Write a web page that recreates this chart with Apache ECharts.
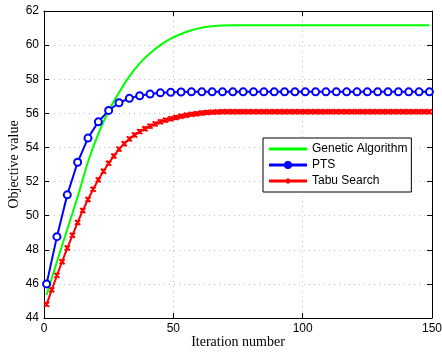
<!DOCTYPE html>
<html>
<head>
<meta charset="utf-8">
<script src="https://cdn.jsdelivr.net/npm/echarts@6/dist/echarts.min.js"></script>
<style>
html,body{margin:0;padding:0;background:#fff;}
#chart{width:442px;height:352px;}
</style>
</head>
<body>
<div id="chart"></div>
<script>
// ---- data ----
const seriesNames = ['Genetic Algorithm', 'PTS', 'Tabu Search'];

const gaIter  = [1, 5, 9, 13, 17, 21, 25, 29, 33, 37, 41, 45, 49, 53, 57, 61, 65, 69, 73, 149];
const gaValue = [45.35, 47.3, 49.2, 51.1, 53.15, 54.8, 56.15, 57.22, 58.17, 58.93, 59.52, 60.0, 60.38, 60.65, 60.87, 61.02, 61.1, 61.15, 61.16, 61.16];

const ptsIter = [1, 5, 9, 13, 17, 21, 25, 29, 33, 37, 41, 45, 49, 53, 57, 61, 65, 69, 73, 77, 81, 85, 89, 93, 97, 101, 105, 109, 113, 117, 121, 125, 129, 133, 137, 141, 145, 149];
const ptsValue = [46.0, 48.77, 51.22, 53.13, 54.55, 55.5, 56.17, 56.62, 56.88, 57.03, 57.13, 57.2, 57.23, 57.25,
  57.26, 57.26, 57.26, 57.26, 57.26, 57.26, 57.26, 57.26, 57.26, 57.26, 57.26, 57.26, 57.26, 57.26, 57.26, 57.26, 57.26, 57.26, 57.26, 57.26, 57.26, 57.26, 57.26, 57.26];

const tabuIter = [1, 3, 5, 7, 9, 11, 13, 15, 17, 19, 21, 23, 25, 27, 29, 31, 33, 35, 37, 39, 41, 43, 45, 47, 49, 51, 53, 55, 57, 59, 61, 63, 65, 67, 69,
  71, 73, 75, 77, 79, 81, 83, 85, 87, 89, 91, 93, 95, 97, 99, 101, 103, 105, 107, 109, 111, 113, 115, 117, 119, 121, 123, 125, 127, 129, 131, 133, 135, 137, 139, 141, 143, 145, 147, 149];
const tabuValue = [44.8, 45.65, 46.5, 47.3, 48.1, 48.85, 49.6, 50.3, 50.95, 51.55, 52.1, 52.6, 53.07, 53.5, 53.9, 54.22, 54.5, 54.73, 54.93, 55.1,
  55.25, 55.38, 55.5, 55.6, 55.68, 55.76, 55.83, 55.89, 55.94, 55.98, 56.02, 56.05, 56.07, 56.08, 56.09,
  56.09, 56.09, 56.09, 56.09, 56.09, 56.09, 56.09, 56.09, 56.09, 56.09, 56.09, 56.09, 56.09, 56.09, 56.09, 56.09, 56.09, 56.09, 56.09, 56.09,
  56.09, 56.09, 56.09, 56.09, 56.09, 56.09, 56.09, 56.09, 56.09, 56.09, 56.09, 56.09, 56.09, 56.09, 56.09, 56.09, 56.09, 56.09, 56.09, 56.09];

const xTicks = {min: 0, max: 150, interval: 50};
const yTicks = {min: 44, max: 62, interval: 2};
const xTitle = 'Iteration number';
const yTitle = 'Objective value';

function pairs(xs, ys) { return xs.map((x, i) => [x, ys[i]]); }

const sans = 'Liberation Sans';
const serif = 'Liberation Serif';
const axisCommon = {
  type: 'value',
  axisLine: {show: true, onZero: false, lineStyle: {color: '#000', width: 1}},
  axisTick: {show: true, inside: true, length: 5, lineStyle: {color: '#000', width: 1}},
};

// legend icons (38 x 14 box; tiny corner dots pin the bounding box)
const pin = 'M0 0h0.05v0.05h-0.05z M37.95 13.95h0.05v0.05h-0.05z ';
const iconLine = 'path://' + pin + 'M0 5.5h38v3h-38z';
const iconCircle = 'path://' + pin + 'M0 5.5h15.1v3h-15.1z M22.9 5.5h15.1v3h-15.1z M15 7a4 4 0 1 1 8 0a4 4 0 1 1 -8 0z';
const iconCross = 'path://' + pin + 'M0 5.5h38v3h-38z M17.5 4.5h3v5h-3z';
const noStroke = {borderWidth: 0};

const chart = echarts.init(document.getElementById('chart'), null, {renderer: 'canvas'});
chart.setOption({
  animation: false,
  backgroundColor: '#fff',
  grid: {left: 44, right: 10, top: 11, bottom: 34, containLabel: false, outerBoundsMode: 'none'},
  legend: {
    orient: 'vertical',
    left: 263, top: 138,
    padding: [4, 4, 4, 6],
    itemWidth: 38, itemHeight: 14, itemGap: 2,
    borderColor: '#000', borderWidth: 1, backgroundColor: '#fff', borderRadius: 0,
    textStyle: {fontFamily: sans, fontSize: 12, color: '#000'},
    data: [
      {name: seriesNames[0], icon: iconLine, itemStyle: noStroke},
      {name: seriesNames[1], icon: iconCircle, itemStyle: {borderWidth: 0, color: '#0000ff'}},
      {name: seriesNames[2], icon: iconCross, itemStyle: noStroke}
    ]
  },
  xAxis: [
    Object.assign({}, axisCommon, {
      min: xTicks.min, max: xTicks.max, interval: xTicks.interval, position: 'bottom',
      name: xTitle, nameLocation: 'middle', nameGap: 17, nameMoveOverlap: false,
      nameTextStyle: {fontFamily: serif, fontSize: 14, color: '#000'},
      axisLabel: {fontFamily: sans, fontSize: 12, color: '#000', margin: 5},
      splitLine: {show: true, lineStyle: {color: '#bdbdbd', width: 1, type: [1, 4]}}
    }),
    Object.assign({}, axisCommon, {
      min: xTicks.min, max: xTicks.max, interval: xTicks.interval, position: 'top',
      axisLabel: {show: false}, splitLine: {show: false}
    })
  ],
  yAxis: [
    Object.assign({}, axisCommon, {
      min: yTicks.min, max: yTicks.max, interval: yTicks.interval, position: 'left',
      name: yTitle, nameLocation: 'middle', nameGap: 23, nameMoveOverlap: false,
      nameTextStyle: {fontFamily: serif, fontSize: 14, color: '#000'},
      axisLabel: {fontFamily: sans, fontSize: 12, color: '#000', margin: 5},
      splitLine: {show: true, lineStyle: {color: '#bdbdbd', width: 1, type: [1, 4]}}
    }),
    Object.assign({}, axisCommon, {
      min: yTicks.min, max: yTicks.max, interval: yTicks.interval, position: 'right',
      axisLabel: {show: false}, splitLine: {show: false}
    })
  ],
  series: [
    {
      name: seriesNames[0], type: 'line', xAxisIndex: 0, yAxisIndex: 0,
      data: pairs(gaIter, gaValue), symbol: 'none', smooth: 0.25,
      color: '#00ff00', lineStyle: {color: '#00ff00', width: 2}
    },
    {
      name: seriesNames[1], type: 'line', xAxisIndex: 0, yAxisIndex: 0,
      data: pairs(ptsIter, ptsValue), symbol: 'emptyCircle', symbolSize: 7, showAllSymbol: true,
      color: '#0000ff', lineStyle: {color: '#0000ff', width: 2},
      itemStyle: {color: '#0000ff', borderColor: '#0000ff', borderWidth: 2.5}
    },
    {
      name: seriesNames[2], type: 'line', xAxisIndex: 0, yAxisIndex: 0,
      data: pairs(tabuIter, tabuValue), showAllSymbol: true,
      symbol: 'path://M0 0L10 10M10 0L0 10M5 0L5 10', symbolSize: 5,
      color: '#ff0000', lineStyle: {color: '#ff0000', width: 2},
      itemStyle: {color: '#ff0000', borderColor: '#ff0000', borderWidth: 2}
    }
  ]
});
</script>
</body>
</html>
